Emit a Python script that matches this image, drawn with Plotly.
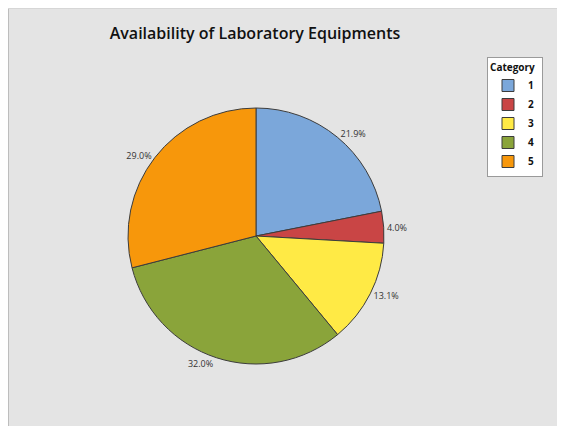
import plotly.graph_objects as go

# Pie data
categories = ["1", "2", "3", "4", "5"]
shares = [21.9, 4.0, 13.1, 32.0, 29.0]
colors = ["#7BA7DA", "#C94545", "#FFEA45", "#8AA43A", "#F7970B"]

# the page body adds an 8px margin, so the figure is drawn 8px smaller
OFF = 8
W, H = 565 - OFF, 426 - OFF

# pie centre / radius in screen pixels, converted to a domain below
cx, cy, r = 256 - OFF, 236 - OFF, 128

fig = go.Figure(
    go.Pie(
        labels=categories,
        values=shares,
        sort=False,
        direction="clockwise",
        rotation=0,
        marker=dict(colors=colors, line=dict(color="#3C3C3C", width=1)),
        textposition="outside",
        texttemplate="%{value:.1f}%",
        textfont=dict(family="Open Sans, sans-serif", size=9, color="#333333"),
        hoverinfo="label+percent",
        domain=dict(
            x=[(cx - r) / W, (cx + r) / W],
            y=[(H - cy - r) / H, (H - cy + r) / H],
        ),
    )
)

fig.update_layout(
    width=W,
    height=H,
    margin=dict(l=0, r=0, t=0, b=0, autoexpand=False),
    paper_bgcolor="#E4E4E4",
    title=dict(
        text="Availability of Laboratory Equipments",
        x=(255 - OFF) / W,
        xanchor="center",
        y=1 - (33 - OFF) / H,
        yanchor="middle",
        font=dict(family="Open Sans, sans-serif", size=16, color="#111111", weight=600),
    ),
    legend=dict(
        title=dict(text="Category  ", side="top right",
                   font=dict(size=10, color="#111111", weight="bold")),
        x=(487 - OFF) / W,
        xanchor="left",
        y=1 - (57 - OFF) / H,
        yanchor="top",
        bgcolor="white",
        bordercolor="#9A9A9A",
        borderwidth=1,
        font=dict(family="Open Sans, sans-serif", size=10, color="#111111", weight="bold"),
        tracegroupgap=0,
        itemwidth=30,
    ),
    showlegend=True,
    shapes=[
        # thin frame edges along the top and left of the grey panel
        dict(type="line", xref="paper", yref="paper", x0=0, x1=0, y0=0, y1=1,
             line=dict(color="#BDBDBD", width=2)),
        dict(type="line", xref="paper", yref="paper", x0=0, x1=1, y0=1, y1=1,
             line=dict(color="#D6D6D6", width=2)),
    ],
)

fig.write_html("out.html")
